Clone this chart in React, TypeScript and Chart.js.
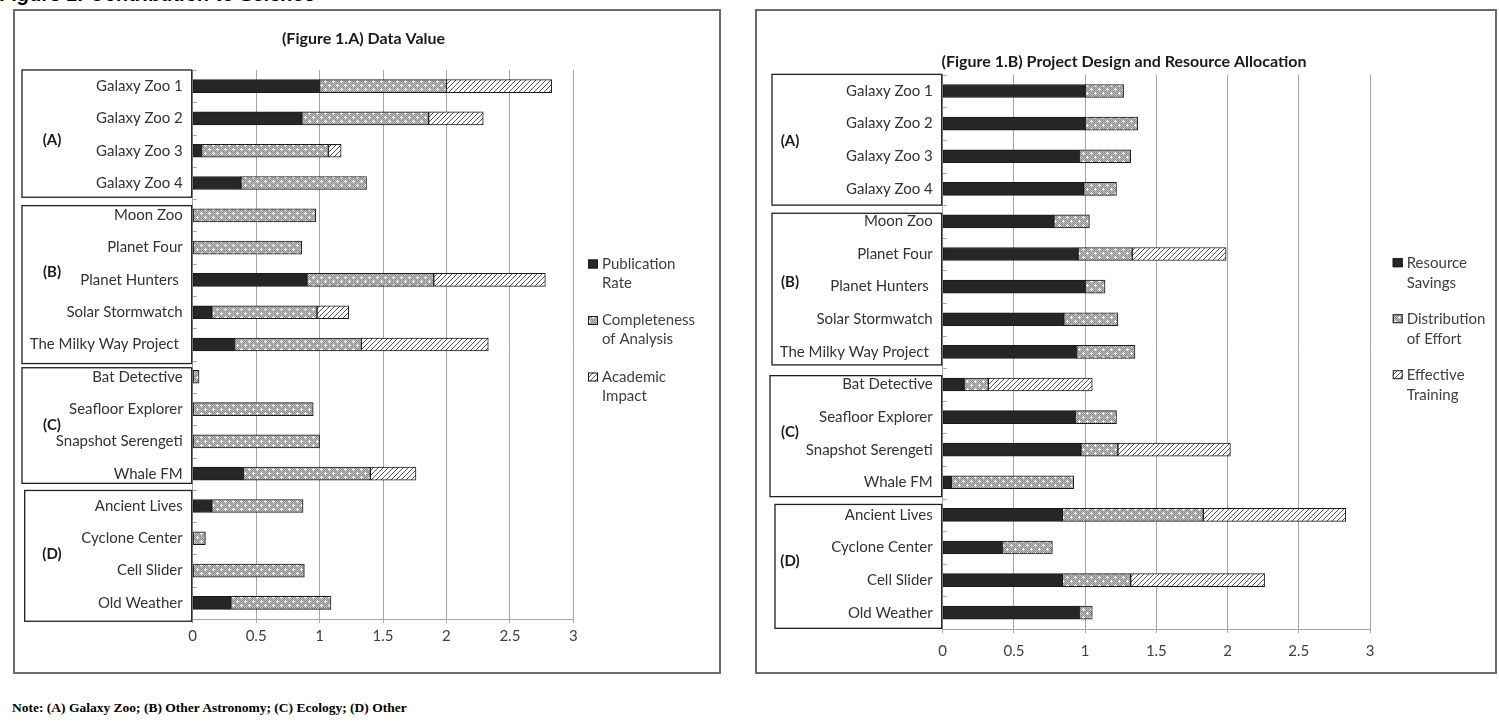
import React, { useEffect, useRef } from 'react';
import { Chart, registerables } from 'chart.js';
Chart.register(...registerables);

// ---------- data ----------
const PROJECTS = [
  'Galaxy Zoo 1', 'Galaxy Zoo 2', 'Galaxy Zoo 3', 'Galaxy Zoo 4',
  'Moon Zoo', 'Planet Four', 'Planet Hunters ', 'Solar Stormwatch', 'The Milky Way Project ',
  'Bat Detective', 'Seafloor Explorer', 'Snapshot Serengeti', 'Whale FM',
  'Ancient Lives', 'Cyclone Center', 'Cell Slider', 'Old Weather',
];

const PUBLICATION_RATE = [1.0, 0.86, 0.07, 0.38, 0, 0, 0.9, 0.15, 0.33, 0, 0, 0, 0.4, 0.15, 0, 0, 0.3];
const COMPLETENESS = [1.0, 1.0, 1.0, 0.99, 0.97, 0.86, 1.0, 0.83, 1.0, 0.05, 0.95, 1.0, 1.0, 0.72, 0.1, 0.88, 0.79];
const ACADEMIC_IMPACT = [0.83, 0.43, 0.1, 0, 0, 0, 0.88, 0.25, 1.0, 0, 0, 0, 0.36, 0, 0, 0, 0];

const RESOURCE_SAVINGS = [1.0, 1.0, 0.96, 0.99, 0.78, 0.95, 1.0, 0.85, 0.94, 0.15, 0.93, 0.97, 0.06, 0.84, 0.42, 0.84, 0.96];
const DISTRIBUTION_OF_EFFORT = [0.27, 0.37, 0.36, 0.23, 0.25, 0.38, 0.14, 0.38, 0.41, 0.17, 0.29, 0.26, 0.86, 0.99, 0.35, 0.48, 0.09];
const EFFECTIVE_TRAINING = [0, 0, 0, 0, 0, 0.66, 0, 0, 0, 0.73, 0, 0.79, 0, 1.0, 0, 0.94, 0];

const SERIES_A_NAMES = [['Publication', 'Rate'], ['Completeness', 'of Analysis'], ['Academic', 'Impact']];
const SERIES_B_NAMES = [['Resource', 'Savings'], ['Distribution', 'of Effort'], ['Effective', 'Training']];

const GROUP_LABELS = ['(A)', '(B)', '(C)', '(D)'];

const X_TICK_MIN = 0;
const X_TICK_MAX = 3;
const X_TICK_STEP = 0.5;

// ---------- patterns ----------
function makeDotPattern(ctx: CanvasRenderingContext2D) {
  const c = document.createElement('canvas');
  c.width = 8; c.height = 8;
  const g = c.getContext('2d')!;
  g.fillStyle = '#bcbcbc';
  g.fillRect(0, 0, 8, 8);
  g.fillStyle = '#909090';
  for (let y = 0; y < 8; y++) for (let x = 0; x < 8; x++) if ((x + y) % 2 === 0) g.fillRect(x, y, 1, 1);
  g.fillStyle = '#ffffff';
  const plus = (px: number, py: number) => { g.fillRect(px - 1, py, 3, 1); g.fillRect(px, py - 1, 1, 3); };
  plus(2, 2); plus(6, 6);
  return ctx.createPattern(c, 'repeat')!;
}

function makeHatchPattern(ctx: CanvasRenderingContext2D) {
  const s = 5;
  const c = document.createElement('canvas');
  c.width = s; c.height = s;
  const g = c.getContext('2d')!;
  g.fillStyle = '#ffffff';
  g.fillRect(0, 0, s, s);
  g.strokeStyle = '#555555';
  g.lineWidth = 1;
  g.beginPath();
  g.moveTo(0, s); g.lineTo(s, 0);
  g.moveTo(-1, 1); g.lineTo(1, -1);
  g.moveTo(s - 1, s + 1); g.lineTo(s + 1, s - 1);
  g.stroke();
  return ctx.createPattern(c, 'repeat')!;
}

type PanelCfg = {
  left: number; top: number; width: number; height: number;
  title: string; titleX: number; titleY: number;
  series: number[][]; names: string[][];
  areaLeft: number; areaRight: number; areaTop: number; areaBottom: number;
  tickPad: number;
  legendSwX: number; legendTextX: number; legendY: number; legendLineGap: number; legendItemGap: number;
  boxTop: number[]; boxBottom: number[]; boxLeft: number[]; labelY: number[]; labelX: number;
};

const FONT = 'Lato, "Open Sans", sans-serif';

function Panel({ cfg }: { cfg: PanelCfg }) {
  const ref = useRef<HTMLCanvasElement>(null);
  useEffect(() => {
    let chart: Chart | null = null;
    let cancelled = false;
    const build = () => {
      const canvas = ref.current;
      if (!canvas || cancelled) return;
      const ctx = canvas.getContext('2d')!;
      const fills = ['#262626', makeDotPattern(ctx), makeHatchPattern(ctx)];
      const decor = {
        id: 'decor',
        afterDraw(c: any) {
          const g: CanvasRenderingContext2D = c.ctx;
          const area = c.chartArea;
          const ys = c.scales.y;
          g.save();
          // title
          g.fillStyle = '#1a1a1a';
          g.font = `bold 16px ${FONT}`;
          g.textAlign = 'center';
          g.textBaseline = 'middle';
          g.fillText(cfg.title, cfg.titleX, cfg.titleY);
          // inner tick marks on the category axis
          g.strokeStyle = '#a6a6a6';
          g.lineWidth = 1;
          g.beginPath();
          for (let k = 0; k <= PROJECTS.length; k++) {
            const y = Math.round(ys.getPixelForValue(k - 0.5)) + 0.5;
            g.moveTo(area.left, y);
            g.lineTo(area.left + 4, y);
          }
          g.stroke();
          // group boxes
          g.strokeStyle = '#1f1f1f';
          g.lineWidth = 1.3;
          for (let i = 0; i < GROUP_LABELS.length; i++) {
            const t = ys.getPixelForValue(cfg.boxTop[i]);
            const b = ys.getPixelForValue(cfg.boxBottom[i]);
            const l = cfg.boxLeft[i];
            const r = area.left - 1;
            g.strokeRect(l, t, r - l, b - t);
            g.fillStyle = '#1a1a1a';
            g.font = `bold 15px ${FONT}`;
            g.textAlign = 'center';
            g.textBaseline = 'middle';
            g.fillText(GROUP_LABELS[i], cfg.labelX, ys.getPixelForValue(cfg.labelY[i]));
          }
          // legend
          for (let i = 0; i < cfg.names.length; i++) {
            const y0 = cfg.legendY + i * cfg.legendItemGap;
            g.fillStyle = fills[i] as any;
            g.fillRect(cfg.legendSwX, y0 - 4.5, 10, 9);
            g.strokeStyle = '#1a1a1a';
            g.lineWidth = 1;
            g.strokeRect(cfg.legendSwX + 0.5, y0 - 4, 9, 8);
            g.fillStyle = '#404040';
            g.font = `15px ${FONT}`;
            g.textAlign = 'left';
            g.textBaseline = 'middle';
            cfg.names[i].forEach((line, j) => g.fillText(line, cfg.legendTextX, y0 + j * cfg.legendLineGap));
          }
          g.restore();
        },
      };
      chart = new Chart(canvas, {
        type: 'bar',
        data: {
          labels: PROJECTS,
          datasets: cfg.series.map((vals, i) => ({
            label: cfg.names[i].join(' '),
            data: vals.map((v) => (v === 0 ? null : v)),
            backgroundColor: fills[i] as any,
            borderColor: '#1a1a1a',
            borderWidth: 1,
            borderSkipped: false,
            barThickness: 13,
          })),
        },
        options: {
          indexAxis: 'y',
          responsive: false,
          animation: false,
          layout: { padding: { left: 0, right: cfg.width - cfg.areaRight, top: cfg.areaTop, bottom: 0 } },
          plugins: { legend: { display: false }, tooltip: { enabled: false }, title: { display: false } },
          scales: {
            x: {
              type: 'linear', stacked: true, min: X_TICK_MIN, max: X_TICK_MAX,
              ticks: {
                stepSize: X_TICK_STEP, font: { family: FONT, size: 15 }, color: '#404040', padding: cfg.tickPad,
                callback: (v: any) => String(Number(v)),
              },
              grid: { color: '#a6a6a6', lineWidth: 1, drawTicks: true, tickLength: 4 },
              border: { color: '#a6a6a6' },
              afterFit: (s: any) => { s.height = cfg.height - cfg.areaBottom; },
            },
            y: {
              type: 'category', stacked: true, offset: true,
              grid: { display: false, drawTicks: false, tickLength: 0 },
              border: { display: true, color: '#a6a6a6' },
              ticks: { font: { family: FONT, size: 15 }, color: '#333333', padding: 10, autoSkip: false },
              afterFit: (s: any) => { s.width = cfg.areaLeft; },
            },
          },
        },
        plugins: [decor],
      } as any);
    };
    Promise.all([
      document.fonts.load(`15px Lato`),
      document.fonts.load(`bold 16px Lato`),
    ]).catch(() => undefined).then(() => build());
    return () => { cancelled = true; if (chart) chart.destroy(); };
  }, [cfg]);
  return (
    <canvas
      ref={ref}
      width={cfg.width}
      height={cfg.height}
      style={{ position: 'absolute', left: cfg.left, top: cfg.top, width: cfg.width, height: cfg.height }}
    />
  );
}

const LEFT_CFG: PanelCfg = {
  left: 15, top: 11, width: 704, height: 661,
  title: '(Figure 1.A) Data Value', titleX: 348.5, titleY: 28,
  series: [PUBLICATION_RATE, COMPLETENESS, ACADEMIC_IMPACT], names: SERIES_A_NAMES,
  areaLeft: 177.7, areaRight: 558.3, areaTop: 59, areaBottom: 608, tickPad: 4,
  legendSwX: 573, legendTextX: 587, legendY: 253, legendLineGap: 19, legendItemGap: 56.5,
  boxTop: [-0.5, 3.7, 8.72, 12.52], boxBottom: [3.44, 8.59, 12.3, 16.57], boxLeft: [7, 7, 7, 9.7],
  labelY: [1.68, 5.75, 10.5, 14.5], labelX: 37,
};

const RIGHT_CFG: PanelCfg = {
  left: 757, top: 11, width: 738, height: 661,
  title: '(Figure 1.B) Project Design and Resource Allocation', titleX: 367, titleY: 51,
  series: [RESOURCE_SAVINGS, DISTRIBUTION_OF_EFFORT, EFFECTIVE_TRAINING], names: SERIES_B_NAMES,
  areaLeft: 185.7, areaRight: 613, areaTop: 63.7, areaBottom: 618, tickPad: 9,
  legendSwX: 635.7, legendTextX: 649.7, legendY: 251.7, legendLineGap: 20, legendItemGap: 56,
  boxTop: [-0.51, 3.75, 8.73, 12.68], boxBottom: [3.5, 8.4, 12.44, 16.48], boxLeft: [15, 15, 13, 18],
  labelY: [1.53, 5.86, 10.46, 14.42], labelX: 33,
};

export default function App() {
  const border = (left: number, width: number) => (
    <div style={{
      position: 'absolute', left, top: 9, width, height: 665, boxSizing: 'border-box',
      border: '2px solid #6b6b6b',
    }} />
  );
  return (
    <div style={{ position: 'absolute', left: 0, top: 0, width: 1499, height: 725, overflow: 'hidden', background: '#ffffff' }}>
      <div style={{
        position: 'absolute', left: 0, top: -17, whiteSpace: 'nowrap',
        font: 'italic bold 20px "Liberation Sans", Arial, sans-serif', color: '#000',
      }}>Figure 1: Contribution to Science</div>
      {border(13, 708)}
      {border(755, 742)}
      <Panel cfg={LEFT_CFG} />
      <Panel cfg={RIGHT_CFG} />
      <div style={{
        position: 'absolute', left: 12, top: 700, whiteSpace: 'nowrap',
        font: 'bold 13.5px "Liberation Serif", "Times New Roman", serif', color: '#000',
      }}>Note: (A) Galaxy Zoo; (B) Other Astronomy; (C) Ecology; (D) Other</div>
    </div>
  );
}
